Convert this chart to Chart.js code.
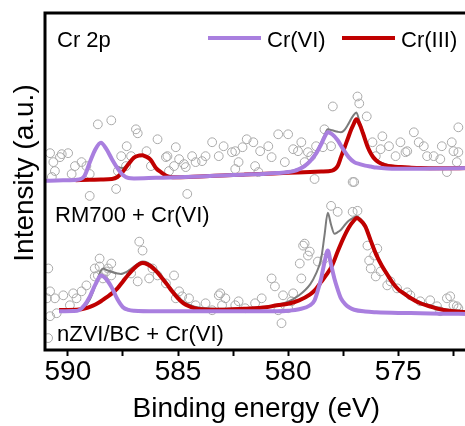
<!DOCTYPE html>
<html>
<head>
<meta charset="utf-8">
<script src="https://cdn.jsdelivr.net/npm/chart.js@4.4.1/dist/chart.umd.min.js"></script>
<style>
    html, body { margin: 0; padding: 0; background: #fff; overflow: hidden; }
    #wrap { width: 473px; height: 426px; }
</style>
</head>
<body>
<div id="wrap"><canvas id="myChart" width="473" height="426"></canvas></div>
<script>
// Cr 2p spectra, two samples stacked (offset already in the intensity values)
const energyMin = 571.85
const energyMax = 591.04
const energyTicks = [590, 587.5, 585, 582.5, 580, 577.5, 575, 572.5]
const legendLabels = ["Cr(VI)", "Cr(III)"]
const sampleLabels = ["RM700 + Cr(VI)", "nZVI/BC + Cr(VI)"]

const purple = "#a97fdf"
const darkRed = "#c00000"
const envGray = "#7c7c7c"
const dotGray = "#a9a9a9"

// RM700 + Cr(VI)  [binding energy, intensity]
const rmPoints = [
    [590.81, 198], [590.28, 197], [589.99, 198], [590.59, 180], [590.73, 174], [589.68, 185], [589.38, 189],
    [589.16, 185], [589.83, 177], [588.64, 227], [588.03, 231], [586.91, 222], [586.83, 218], [587.33, 205],
    [587.58, 195], [587.13, 195], [585.93, 212], [586.43, 200], [586.23, 185], [585.48, 195], [585.10, 204],
    [585.18, 185], [584.36, 195], [584.73, 187], [583.91, 190], [583.45, 209], [582.93, 205], [583.15, 195],
    [582.55, 199], [582.07, 204], [581.88, 212], [581.58, 209], [581.27, 200], [580.90, 205], [580.75, 194],
    [580.45, 217], [580.00, 217], [579.77, 202], [579.40, 209], [579.10, 199], [578.73, 205], [578.35, 222],
    [577.97, 245], [578.05, 205], [576.85, 255], [576.77, 248], [576.43, 235], [577.07, 169], [576.17, 209],
    [576.02, 195], [575.72, 215], [575.42, 205], [575.12, 195], [574.90, 209], [574.67, 199], [574.29, 219],
    [573.84, 205], [573.39, 195], [573.02, 205], [572.57, 209], [572.27, 224], [572.27, 199], [584.58, 157],
    [589.01, 155], [582.40, 200], [579.55, 200], [579.25, 189], [578.95, 195], [578.42, 204], [578.80, 172],
    [575.80, 202], [574.59, 200], [574.07, 209], [573.69, 195], [573.09, 192], [572.79, 179], [572.49, 200],
    [572.34, 189], [590.36, 194], [590.66, 189], [589.01, 177], [587.73, 180], [587.36, 185], [585.55, 194],
    [584.95, 192], [585.41, 180], [584.65, 184], [584.20, 189], [583.75, 195], [582.40, 182], [587.81, 162],
    [582.25, 189], [581.50, 185], [580.15, 189], [581.35, 179]
]
const rmEnvelope = [
    [591.04, 170.3], [590.5, 170.5], [590, 170.8], [589.5, 171.5], [589.25, 175], [589, 189], [588.75, 202],
    [588.5, 208.5], [588.25, 202], [588, 192], [587.75, 184.5], [587.5, 183], [587.25, 188], [587, 193.5],
    [586.75, 195.7], [586.62, 196.2], [586.5, 195.2], [586.25, 191.7], [586, 183.3], [585.75, 178.8],
    [585.5, 175.3], [585.25, 174], [585, 174], [584, 174.8], [583, 175.7], [582, 176.6], [581, 177.6],
    [580, 179.5], [579.5, 182.5], [579.25, 186], [579, 191], [578.75, 198.5], [578.5, 208.5], [578.35, 216],
    [578.2, 222], [578, 221], [577.75, 219.5], [577.6, 219], [577.45, 221], [577.3, 226], [577.15, 232],
    [577.05, 235.5], [576.9, 239], [576.75, 229], [576.6, 219.5], [576.4, 206], [576.25, 199], [576.1, 194],
    [575.9, 190], [575.6, 187], [575.25, 185.3], [574.9, 184.7], [574.5, 184], [574, 183.5], [573, 183.2],
    [571.85, 183.3]
]
const rmCr6 = [
    [591.04, 170.3], [590.5, 170.5], [590, 170.8], [589.5, 171.5], [589.25, 175], [589, 189], [588.75, 202],
    [588.5, 208.5], [588.25, 202], [588, 192], [587.75, 183], [587.5, 176], [587.25, 173], [587, 172.6],
    [586, 173.2], [585, 173.8], [584, 174.6], [583, 175.5], [582, 176.4], [581, 177.3], [580.5, 178],
    [580, 179], [579.75, 180], [579.5, 182], [579.25, 185], [579, 190], [578.75, 197], [578.5, 207],
    [578.35, 214], [578.2, 219], [578, 217], [577.75, 211], [577.5, 202], [577.25, 194], [577, 189],
    [576.75, 187], [576.5, 185.5], [576.25, 184.5], [576, 183.5], [575.5, 182.5], [575, 182.3], [574, 182.4],
    [573, 182.6], [571.85, 183]
]
const rmCr3 = [
    [589.65, 170.8], [589, 171.2], [588.5, 171.6], [588, 172], [587.75, 174], [587.5, 179.5], [587.25, 187],
    [587, 193.5], [586.75, 195.7], [586.62, 196], [586.5, 195], [586.25, 191.5], [586, 183], [585.75, 178.5],
    [585.5, 175], [585.25, 173.8], [585, 173.8], [584, 174.6], [583, 175.5], [582, 176.4], [581, 177.3],
    [580, 178.2], [579, 179], [578.5, 179.5], [578, 180.5], [577.75, 185], [577.6, 194], [577.45, 203],
    [577.3, 212], [577.15, 221], [577.05, 226], [576.9, 232], [576.75, 227], [576.6, 218], [576.4, 205],
    [576.25, 198], [576.1, 193], [575.9, 189], [575.6, 186], [575.25, 184.5], [574.9, 184], [574.5, 183.5],
    [574, 183], [573, 182.8], [571.85, 183]
]

// nZVI/BC + Cr(VI)
const zvPoints = [
    [590.89, 82], [590.81, 59], [590.59, 52], [590.21, 55], [589.76, 57], [589.38, 59], [590.51, 37],
    [589.91, 45], [589.61, 52], [589.16, 65], [588.78, 82], [588.56, 92], [588.18, 82], [588.03, 75],
    [588.41, 72], [588.78, 74], [586.76, 109], [586.61, 100], [587.13, 77], [586.83, 69], [586.16, 82],
    [585.93, 75], [586.31, 72], [585.55, 67], [585.18, 75], [584.95, 59], [584.50, 52], [585.10, 52],
    [584.20, 45], [583.75, 47], [583.15, 55], [583.00, 45], [582.25, 49], [581.50, 47], [580.75, 72],
    [580.60, 64], [580.30, 27], [579.85, 49], [579.40, 72], [579.25, 107], [579.02, 99], [578.65, 89],
    [578.35, 92], [578.05, 145], [577.75, 139], [577.07, 139], [576.85, 140], [576.40, 105], [576.09, 95],
    [576.25, 82], [575.80, 79], [575.35, 69], [575.05, 62], [574.45, 55], [574.00, 49], [573.55, 50],
    [573.24, 44], [572.79, 52], [572.49, 45], [572.27, 42], [573.10, 39], [579.47, 87], [577.00, 169],
    [575.95, 102], [576.32, 90], [576.02, 74], [575.50, 65], [574.59, 58], [572.64, 54], [572.34, 44],
    [580.23, 55], [579.77, 57], [588.64, 75], [588.26, 79], [588.03, 87], [588.56, 84], [583.08, 57],
    [582.40, 45], [584.81, 54], [590.95, 52], [590.81, 34], [590.90, 12], [583.45, 40], [582.85, 52],
    [581.95, 42], [581.20, 52], [580.45, 40], [580.00, 42], [579.10, 95], [579.32, 105]
]
const zvEnvelope = [
    [590.4, 40.3], [590, 40.3], [589.5, 41], [589.25, 43.5], [589, 51], [588.75, 65], [588.5, 80],
    [588.4, 82], [588.25, 80.5], [588, 78.5], [587.75, 77], [587.6, 76.5], [587.5, 77], [587.25, 79.5],
    [587, 84], [586.75, 88], [586.6, 89], [586.5, 88.8], [586.25, 86], [586, 81], [585.75, 74.5],
    [585.5, 67.5], [585.25, 60], [585, 53.5], [584.75, 48.5], [584.5, 45.5], [584.25, 43.5], [584, 42.5],
    [583, 41.5], [582, 42], [581, 43.5], [580.5, 45.5], [580, 48.5], [579.5, 55], [579, 66], [578.75, 76],
    [578.5, 92], [578.35, 115], [578.2, 138], [578.05, 126], [577.9, 117], [577.75, 118.5], [577.6, 121],
    [577.4, 126.5], [577.25, 130], [577, 133.5], [576.88, 134.5], [576.75, 132.5], [576.5, 126],
    [576.25, 111.5], [576, 97], [575.75, 86], [575.5, 77], [575.25, 68.5], [575, 62], [574.75, 58],
    [574.5, 54], [574, 48], [573.5, 44.5], [573, 41.5], [572.5, 40], [571.85, 39]
]
const zvCr6 = [
    [590.4, 39], [589.75, 39.2], [589.5, 40], [589.25, 45], [589, 54], [588.75, 66], [588.5, 75],
    [588.25, 71], [588, 62.5], [587.75, 51], [587.5, 43], [587.25, 40.3], [587, 39.5], [586, 39], [584, 39],
    [582, 39], [581, 39], [580.5, 39], [580, 39.5], [579.5, 41], [579, 45], [578.8, 50], [578.65, 60],
    [578.5, 72], [578.35, 88], [578.2, 100], [578.05, 86], [577.9, 72], [577.75, 61], [577.6, 52],
    [577.4, 46], [577.2, 42.5], [577, 40.5], [576.5, 38.7], [576, 38], [575, 37.3], [574, 37], [573, 36.5],
    [571.85, 36.3]
]
const zvCr3 = [
    [590.4, 40.3], [590, 40.3], [589.5, 40.7], [589.25, 41.8], [589, 43.5], [588.75, 45.8], [588.5, 49],
    [588.25, 53], [588, 57], [587.75, 62], [587.5, 69], [587.25, 76], [587, 82], [586.75, 86.5],
    [586.6, 87.5], [586.5, 87.3], [586.25, 84.5], [586, 79.5], [585.75, 73], [585.5, 66], [585.25, 58.5],
    [585, 52], [584.75, 47], [584.5, 44], [584.25, 42], [584, 41], [583.5, 40.5], [583, 40.5], [582, 41.5],
    [581, 43], [580.5, 45], [580, 46.5], [579.5, 50], [579, 56], [578.75, 61], [578.5, 68.5], [578.25, 76],
    [578, 85], [577.75, 99], [577.5, 112], [577.25, 123], [577, 130.5], [576.88, 132.7], [576.75, 131],
    [576.5, 124.5], [576.25, 110], [576, 96], [575.75, 85], [575.5, 76], [575.25, 67.5], [575, 61],
    [574.75, 57], [574.5, 53], [574, 47], [573.5, 43.5], [573, 40.5], [572.5, 39], [571.85, 38]
]

const toXY = (arr) => arr.map(p => ({ x: p[0], y: p[1] }))

const dots = (label, arr) => ({
    label: label,
    data: toXY(arr),
    showLine: false,
    pointRadius: 4.4,
    pointBorderWidth: 1,
    pointBorderColor: dotGray,
    pointBackgroundColor: "rgba(0,0,0,0)",
    order: 4
})

const curve = (label, arr, color, width, order) => ({
    label: label,
    data: toXY(arr),
    showLine: true,
    borderColor: color,
    borderWidth: width,
    pointRadius: 0,
    fill: false,
    cubicInterpolationMode: "monotone",
    order: order
})

const FONT = '"Liberation Sans", Arial, sans-serif'

const decoPlugin = {
    id: "deco",
    afterDatasetsDraw(chart) {
        const ctx = chart.ctx
        const { left, top, right, bottom } = chart.chartArea
        ctx.save()
        ctx.strokeStyle = "#000"
        ctx.lineWidth = 3
        ctx.strokeRect(left, top, right - left, bottom - top)

        ctx.fillStyle = "#000"
        ctx.font = "22px " + FONT
        ctx.textBaseline = "alphabetic"
        ctx.textAlign = "left"
        ctx.fillText("Cr 2p", left + 12, top + 34)
        ctx.fillText(sampleLabels[0], left + 10, top + 209)
        ctx.fillText(sampleLabels[1], left + 12, top + 328)

        // legend
        const legColors = [purple, darkRed]
        const legX = [208, 342]
        ctx.lineWidth = 4
        for (let i = 0; i < 2; i++) {
            ctx.strokeStyle = legColors[i]
            ctx.beginPath()
            ctx.moveTo(legX[i], top + 25)
            ctx.lineTo(legX[i] + 53, top + 25)
            ctx.stroke()
            ctx.fillText(legendLabels[i], legX[i] + 59, top + 34)
        }

        // y title
        ctx.font = "28px " + FONT
        ctx.translate(25, 173)
        ctx.rotate(-Math.PI / 2)
        ctx.textAlign = "center"
        ctx.textBaseline = "middle"
        ctx.fillText("Intensity (a.u.)", 0, 0)
        ctx.restore()
    }
}

const ctx = document.getElementById("myChart").getContext("2d")
const myChart = new Chart(ctx, {
    type: "scatter",
    data: {
        datasets: [
            curve("Cr(VI)", rmCr6, purple, 4, 1),
            curve("Cr(III)", rmCr3, darkRed, 4, 2),
            curve("RM700 envelope", rmEnvelope, envGray, 2, 3),
            dots("RM700 data", rmPoints),
            curve("Cr(VI)", zvCr6, purple, 4, 1),
            curve("Cr(III)", zvCr3, darkRed, 4, 2),
            curve("nZVI/BC envelope", zvEnvelope, envGray, 2, 3),
            dots("nZVI/BC data", zvPoints)
        ]
    },
    options: {
        responsive: false,
        animation: false,
        layout: { padding: { left: 45, top: 13, right: 2, bottom: 0 } },
        plugins: {
            legend: { display: false },
            tooltip: { enabled: false }
        },
        scales: {
            x: {
                type: "linear",
                reverse: true,
                min: energyMin,
                max: energyMax,
                afterBuildTicks: (axis) => {
                    axis.ticks = energyTicks.map(v => ({ value: v }))
                },
                border: { display: false },
                grid: {
                    drawOnChartArea: false,
                    drawTicks: true,
                    tickLength: 6,
                    tickWidth: 2,
                    tickColor: "#000"
                },
                ticks: {
                    color: "#000",
                    padding: 2,
                    maxRotation: 0,
                    autoSkip: false,
                    font: { family: FONT, size: 28, lineHeight: 1 },
                    callback: (v) => (v % 5 === 0 ? v : "")
                },
                title: {
                    display: true,
                    text: "Binding energy (eV)",
                    color: "#000",
                    font: { family: FONT, size: 28, lineHeight: 1.2 },
                    padding: { top: 4.4, bottom: 0 }
                }
            },
            y: {
                display: false,
                min: 0,
                max: 339
            }
        }
    },
    plugins: [decoPlugin]
})
</script>
</body>
</html>
